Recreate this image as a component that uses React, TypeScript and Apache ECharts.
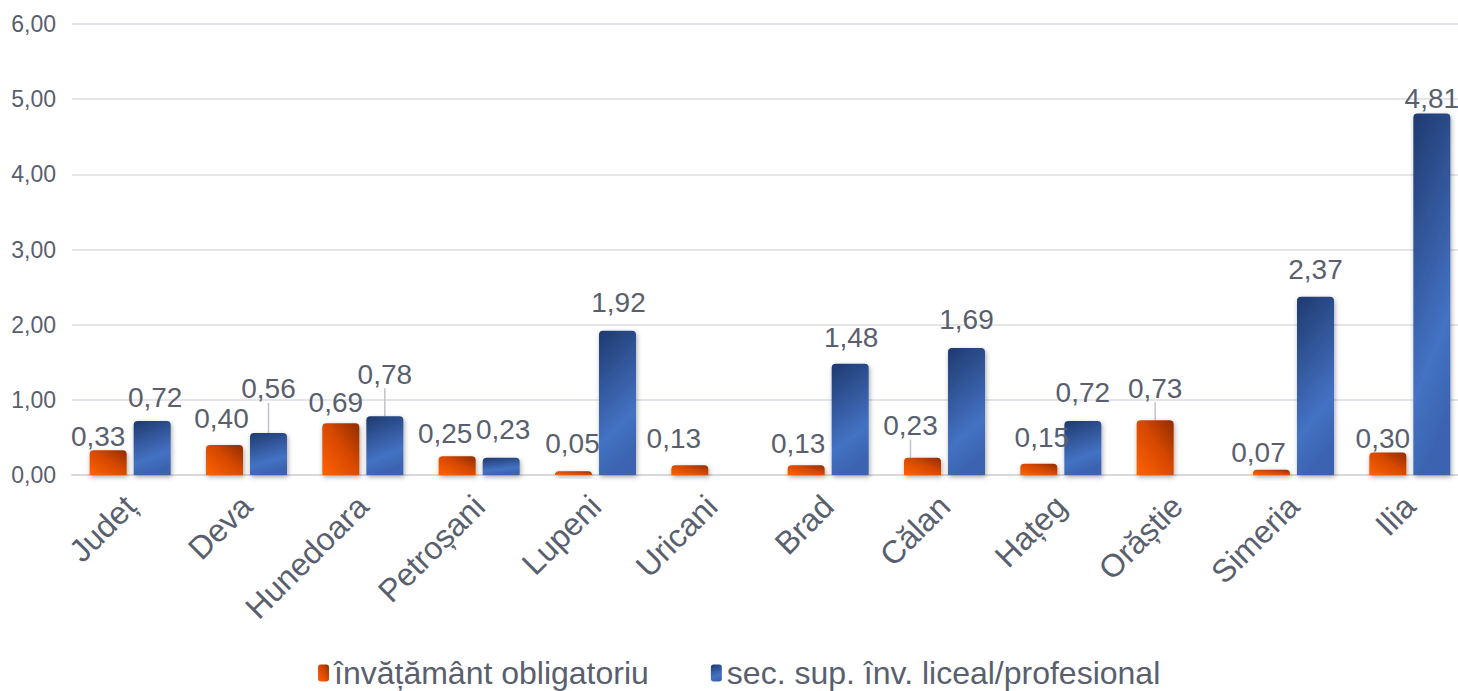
import React, { useEffect, useRef } from "react";
import * as echarts from "echarts";

const categories = ["Județ", "Deva", "Hunedoara", "Petroșani", "Lupeni", "Uricani", "Brad", "Călan", "Hațeg", "Orăștie", "Simeria", "Ilia"];
const obligatoriu = [0.33, 0.40, 0.69, 0.25, 0.05, 0.13, 0.13, 0.23, 0.15, 0.73, 0.07, 0.30];
const liceal = [0.72, 0.56, 0.78, 0.23, 1.92, null, 1.48, 1.69, 0.72, null, 2.37, 4.81];
const seriesNames = ["învățământ obligatoriu", "sec. sup. înv. liceal/profesional"];
const yTicks = { min: 0, max: 6, interval: 1 };

// label nudges [dx, dy] per series / category index (layout only)
const labelNudge: Record<string, [number, number]> = {
  "0-0": [-10, 13], "0-1": [-3, 1], "0-2": [-5, 6], "0-3": [-12, 4], "0-4": [-1, -1],
  "0-5": [-16, 0], "0-6": [-8, 5], "0-7": [-12, -5], "0-8": [3, 1], "0-9": [0, -5],
  "0-10": [-13, 10], "0-11": [-5, 13],
  "1-0": [3, 4], "1-1": [0, -17], "1-2": [0, -15], "1-3": [2, -1], "1-4": [1, -1],
  "1-6": [1, 1], "1-7": [0, -1], "1-8": [0, -1], "1-11": [0, 12],
};
const leaderLines = new Set(["0-7", "0-9", "1-1", "1-2"]);

const FONT = "'Liberation Sans', Arial, sans-serif";
const TEXT = "#595f6e";
const fmt = (v: number) => v.toFixed(2).replace(".", ",");

export default function App() {
  const ref = useRef<HTMLDivElement>(null);
  useEffect(() => {
    document.body.style.margin = "0";
    document.body.style.overflow = "hidden";
    const chart = echarts.init(ref.current!, null, { renderer: "svg" });
    const orangeGrad = new echarts.graphic.LinearGradient(0, 1, 1, 0, [
      { offset: 0, color: "#ff6200" },
      { offset: 0.55, color: "#d64800" },
      { offset: 1, color: "#8e2c00" },
    ]);
    const blueGrad = new echarts.graphic.LinearGradient(0, 0, 0.25, 1, [
      { offset: 0, color: "#1f3a6f" },
      { offset: 0.75, color: "#4472c4" },
      { offset: 1, color: "#3b64b0" },
    ]);
    const build = (vals: (number | null)[], si: number) =>
      vals.map((v, i) => {
        const key = `${si}-${i}`;
        if (v === null) return { value: null };
        const item: any = { value: v };
        if (leaderLines.has(key)) item.labelLine = { show: true, lineStyle: { color: "#bfc3cc", width: 1.5 } };
        return item;
      });
    const common = (si: number, grad: any) => ({
      type: "bar",
      name: seriesNames[si],
      barWidth: 37,
      barGap: "19%",
      itemStyle: {
        color: grad,
        borderRadius: [4, 4, 0, 0],
        shadowBlur: 5,
        shadowColor: "rgba(0,0,0,0.35)",
        shadowOffsetY: 2,
        shadowOffsetX: 1,
      },
      label: {
        show: true,
        position: "top",
        distance: 13,
        fontSize: 28,
        fontFamily: FONT,
        color: TEXT,
        formatter: (p: any) => fmt(p.value),
      },
      labelLine: { show: false },
      labelLayout: (p: any) => {
        const n = labelNudge[`${si}-${p.dataIndex}`];
        return n ? { dx: n[0], dy: n[1] } : {};
      },
      data: build(si === 0 ? obligatoriu : liceal, si),
    });
    chart.setOption({
      animation: false,
      grid: { left: 72, top: 24, right: 0, height: 451 },
      legend: {
        top: 652,
        left: 313,
        itemWidth: 11,
        itemHeight: 17,
        itemGap: 62,
        icon: "roundRect",
        textStyle: { fontSize: 32, fontFamily: FONT, color: TEXT },
        data: seriesNames,
      },
      xAxis: {
        type: "category",
        data: categories,
        axisTick: { show: false },
        axisLine: { lineStyle: { color: "#d9d9dd", width: 2 } },
        axisLabel: { rotate: 45, fontSize: 32, fontFamily: FONT, color: TEXT, margin: 26, interval: 0 },
      },
      yAxis: {
        type: "value",
        min: yTicks.min,
        max: yTicks.max,
        interval: yTicks.interval,
        axisLine: { show: false },
        axisTick: { show: false },
        splitLine: { lineStyle: { color: "#e4e4ea", width: 2 } },
        axisLabel: { fontSize: 23, fontFamily: FONT, color: TEXT, margin: 16, formatter: (v: number) => fmt(v) },
      },
      series: [common(0, orangeGrad), common(1, blueGrad)],
    });
    return () => chart.dispose();
  }, []);
  return (
    <div style={{ width: 1458, height: 691, overflow: "hidden", position: "absolute", left: 0, top: 0 }}>
      <div ref={ref} style={{ width: 1468, height: 691 }} />
    </div>
  );
}
